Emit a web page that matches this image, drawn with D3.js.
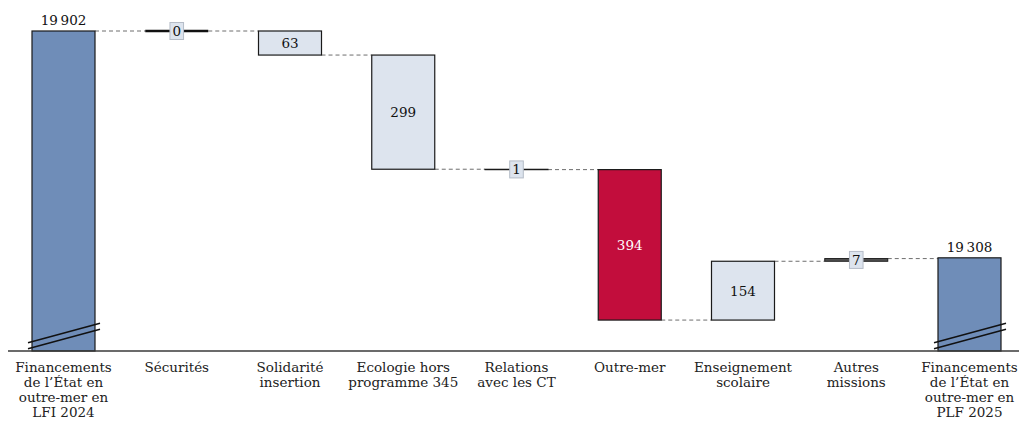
<!DOCTYPE html>
<html>
<head>
<meta charset="utf-8">
<script src="https://cdn.jsdelivr.net/npm/d3@7"></script>
<style>
  body { margin: 0; background: #fff; }
  svg { font-family: "DejaVu Serif", "Liberation Serif", serif; }
</style>
</head>
<body>
<svg id="chart" width="1019" height="421"></svg>
<script>
// ---- Data ----
const categories = [
  ["Financements", "de l\u2019État en", "outre-mer en", "LFI 2024"],
  ["Sécurités"],
  ["Solidarité", "insertion"],
  ["Ecologie hors", "programme 345"],
  ["Relations", "avec les CT"],
  ["Outre-mer"],
  ["Enseignement", "scolaire"],
  ["Autres", "missions"],
  ["Financements", "de l\u2019État en", "outre-mer en", "PLF 2025"]
];
const startValue = 19902;
const endValue = 19308;
// signed changes between the two totals
const deltas = [0, -63, -299, -1, -394, 154, 7];
const deltaLabels = ["0", "63", "299", "1", "394", "154", "7"];
const totalLabels = ["19\u202f902", "19\u202f308"];
const axisFloor = 19064; // broken axis: bars start here

// ---- Build the steps ----
let running = startValue;
const steps = [{kind: "total", y0: axisFloor, y1: startValue, label: totalLabels[0]}];
deltas.forEach((d, i) => {
  const from = running;
  running += d;
  steps.push({kind: "delta", from, to: running, y0: Math.min(from, running), y1: Math.max(from, running), value: d, label: deltaLabels[i]});
});
steps.push({kind: "total", y0: axisFloor, y1: endValue, label: totalLabels[1]});
steps.forEach((s, i) => s.cat = i);

// ---- Scales ----
const svg = d3.select("#chart");
const x = d3.scalePoint().domain(d3.range(categories.length)).range([63.5, 969.5]);
const y = d3.scaleLinear().domain([axisFloor, startValue]).range([351, 31]);
const bw = 63;

const fillFor = s => {
  if (s.kind === "total") return "#6f8db8";
  if (s.value <= -300) return "#c20d3c";
  if (Math.abs(s.value) < 10) return "#555";
  return "#dde4ee";
};

// connectors
const conn = svg.append("g");
steps.forEach((s, i) => {
  if (i === steps.length - 1) return;
  const level = s.kind === "total" ? s.y1 : s.to;
  conn.append("line")
    .attr("x1", x(i) + bw / 2).attr("x2", x(i + 1) - bw / 2)
    .attr("y1", y(level)).attr("y2", y(level))
    .attr("stroke", "#6e6e6e").attr("stroke-width", 1)
    .attr("stroke-dasharray", "4,3");
});

// bars
const bars = svg.append("g");
steps.forEach(s => {
  const top = y(s.y1), h = y(s.y0) - y(s.y1);
  if (s.kind === "delta" && s.value === 0) {
    bars.append("line")
      .attr("x1", x(s.cat) - bw / 2).attr("x2", x(s.cat) + bw / 2)
      .attr("y1", top).attr("y2", top)
      .attr("stroke", "#111").attr("stroke-width", 2.5);
    return;
  }
  const small = s.kind === "delta" && Math.abs(s.value) < 10;
  bars.append("rect")
    .attr("x", x(s.cat) - bw / 2).attr("width", bw)
    .attr("y", top).attr("height", Math.max(0.5, h))
    .attr("fill", fillFor(s))
    .attr("stroke", "#1a1a1a")
    .attr("stroke-width", small ? 1 : 1.2);
});

// axis baseline
svg.append("line")
  .attr("x1", 8).attr("x2", 1019).attr("y1", 351).attr("y2", 351)
  .attr("stroke", "#3a3a3a").attr("stroke-width", 1.6);

// break marks on the totals
steps.filter(s => s.kind === "total").forEach(s => {
  const cx = x(s.cat);
  [0, 6].forEach(off => {
    svg.append("line")
      .attr("x1", cx - 35.5).attr("y1", 342.7 + off)
      .attr("x2", cx + 36.5).attr("y2", 323.3 + off)
      .attr("stroke", "#111").attr("stroke-width", 1.4);
  });
});

// value labels
const labels = svg.append("g").attr("font-size", 13.5).attr("text-anchor", "middle");
steps.forEach(s => {
  const cx = x(s.cat);
  if (s.kind === "total") {
    labels.append("text").attr("x", cx).attr("y", y(s.y1) - 6).attr("fill", "#111").text(s.label);
    return;
  }
  const small = Math.abs(s.value) < 10;
  const cy = (y(s.y0) + y(s.y1)) / 2;
  if (small) {
    const t = labels.append("text").attr("x", cx).attr("y", cy + 5).attr("fill", "#111").text(s.label);
    const w = t.node().getComputedTextLength();
    labels.insert("rect", () => t.node())
      .attr("x", cx - w / 2 - 2.5).attr("width", w + 5)
      .attr("y", cy - 8.5).attr("height", 17)
      .attr("fill", "#dde4ee").attr("stroke", "#b5bcc7").attr("stroke-width", 1);
  } else {
    labels.append("text").attr("x", cx).attr("y", cy + 5)
      .attr("fill", s.value <= -300 ? "#fff" : "#111").text(s.label);
  }
});

// category labels
const cat = svg.append("g").attr("font-size", 13.5).attr("text-anchor", "middle").attr("fill", "#222");
categories.forEach((lines, i) => {
  const t = cat.append("text").attr("x", x(i)).attr("y", 371.5);
  lines.forEach((ln, j) => t.append("tspan").attr("x", x(i)).attr("dy", j ? 15.3 : 0).text(ln));
});
</script>
</body>
</html>
